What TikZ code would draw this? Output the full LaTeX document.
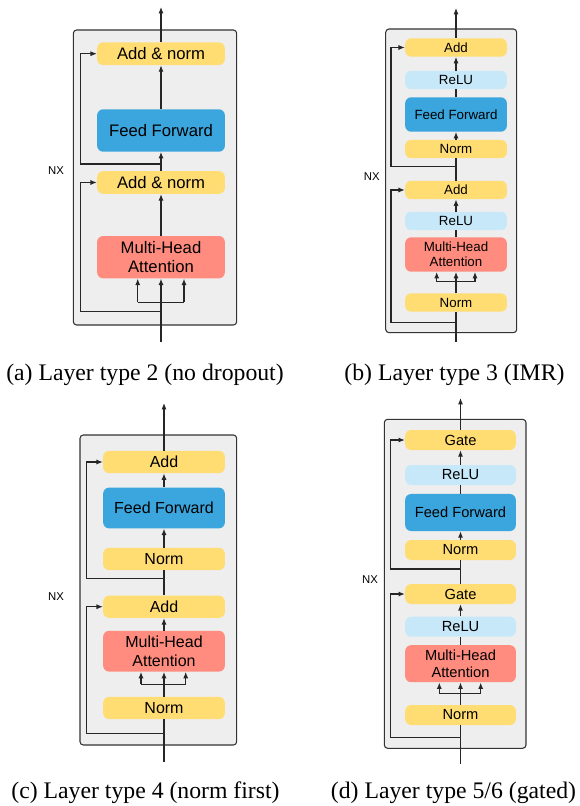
\documentclass[tikz,border=0pt]{standalone}
\usepackage{fontspec}
\setmainfont{Liberation Serif}
\setsansfont{Liberation Sans}
\usetikzlibrary{arrows.meta}

\definecolor{normyellow}{RGB}{255,221,114}
\definecolor{ffblue}{RGB}{58,166,221}
\definecolor{relublue}{RGB}{199,232,248}
\definecolor{attnred}{RGB}{255,140,126}
\definecolor{panelgray}{RGB}{238,238,238}
\definecolor{edgegray}{RGB}{51,51,51}

\tikzset{
  layer/.style={draw=edgegray, fill=panelgray, line width=0.8pt, rounded corners=2.5pt},
  block/.style={rounded corners=4.5pt, inner sep=0pt, align=center, font=\sffamily},
  normbox/.style={block, fill=normyellow},
  ffbox/.style={block, fill=ffblue},
  relubox/.style={block, fill=relublue},
  attnbox/.style={block, fill=attnred},
  wire/.style={draw=black!85, line width=0.85pt},
  flow/.style={wire, -{Latex[length=4.8pt,width=3.8pt]}},
  caption/.style={font=\fontsize{17.8}{20}\selectfont, anchor=base},
  nx/.style={font=\sffamily\fontsize{8.5}{10}\selectfont}
}

\begin{document}
\begin{tikzpicture}[x=0.75pt, y=-0.75pt]
  \useasboundingbox (0,0) rectangle (579,806);

  % ---- (a) layer type 2 ----
  \begin{scope}[block/.append style={minimum width=95.8pt, minimum height=17pt,
      font=\sffamily\fontsize{12.5}{14.5}\selectfont},
      ffbox/.append style={minimum height=31.8pt},
      attnbox/.append style={minimum height=31.8pt}]
    \draw[layer] (73.3,30) rectangle (236.7,325);

    % Draw nodes
    \node[normbox] (a-add2) at (161,53.7) {Add \& norm};
    \node[ffbox] (a-ff) at (161,130.5) {Feed Forward};
    \node[normbox] (a-add1) at (161,182.5) {Add \& norm};
    \node[attnbox] (a-mha) at (161,257.2) {Multi-Head\\Attention};
    \node[nx] (a-nx) at (56,170.7) {NX};

    \coordinate (a-in) at (161,342);
    \coordinate (a-out) at (161,7);
    \coordinate (a-l) at (137.7,302.3);
    \coordinate (a-r) at (184,302.3);
    \coordinate (a-split1) at (161,311.7);
    \coordinate (a-split2) at (161,164);
    \coordinate (a-c1) at (80.7,182.5);
    \coordinate (a-c2) at (80.7,53.7);

    % Draw directed edges
    \draw[flow] (a-in) -- (a-mha);
    \draw[wire] (a-l) -- (a-r);
    \draw[flow] (a-l) -- (a-l |- a-mha.south);
    \draw[flow] (a-r) -- (a-r |- a-mha.south);
    \draw[flow] (a-mha) -- (a-add1);
    \draw[flow] (a-add1) -- (a-ff);
    \draw[flow] (a-ff) -- (a-add2);
    \draw[flow] (a-add2) -- (a-out);
    \draw[flow] (a-split1) -| (a-c1) -- (a-add1);
    \draw[flow] (a-split2) -| (a-c2) -- (a-add2);
  \end{scope}

  % ---- (b) layer type 3 ----
  \begin{scope}[block/.append style={minimum width=76.3pt, minimum height=13.8pt,
      font=\sffamily\fontsize{10}{11.3}\selectfont},
      ffbox/.append style={minimum height=25.8pt},
      attnbox/.append style={minimum height=25.8pt}]
    \draw[layer] (385.7,29) rectangle (516.7,332.7);

    % Draw nodes
    \node[normbox] (b-add2) at (456,47.5) {Add};
    \node[relubox] (b-relu2) at (456,80) {ReLU};
    \node[ffbox] (b-ff) at (456,114.5) {Feed Forward};
    \node[normbox] (b-norm2) at (456,149) {Norm};
    \node[normbox] (b-add1) at (456,190) {Add};
    \node[relubox] (b-relu1) at (456,221) {ReLU};
    \node[attnbox] (b-mha) at (456,254.5) {Multi-Head\\Attention};
    \node[normbox] (b-norm1) at (456,302.5) {Norm};
    \node[nx] (b-nx) at (371.7,176.7) {NX};

    \coordinate (b-in) at (456,342);
    \coordinate (b-out) at (456,8);
    \coordinate (b-bar) at (456,281.7);
    \coordinate (b-l) at (436.7,281.7);
    \coordinate (b-r) at (475,281.7);
    \coordinate (b-split1) at (456,322.7);
    \coordinate (b-split2) at (456,166.7);
    \coordinate (b-c1) at (391,190);
    \coordinate (b-c2) at (391,47.5);

    % Draw directed edges
    \draw[wire] (b-in) -- (b-norm1);
    \draw[wire] (b-norm1) -- (b-bar);
    \draw[wire] (b-l) -- (b-r);
    \draw[flow] (b-bar) -- (b-mha);
    \draw[flow] (b-l) -- (b-l |- b-mha.south);
    \draw[flow] (b-r) -- (b-r |- b-mha.south);
    \draw[wire] (b-mha) -- (b-relu1);
    \draw[flow] (b-relu1) -- (b-add1);
    \draw[wire] (b-add1) -- (b-norm2);
    \draw[flow] (b-norm2) -- (b-ff);
    \draw[wire] (b-ff) -- (b-relu2);
    \draw[flow] (b-relu2) -- (b-add2);
    \draw[flow] (b-add2) -- (b-out);
    \draw[flow] (b-split1) -| (b-c1) -- (b-add1);
    \draw[flow] (b-split2) -| (b-c2) -- (b-add2);
  \end{scope}

  % ---- (c) layer type 4 ----
  \begin{scope}[block/.append style={minimum width=91.3pt, minimum height=16.7pt,
      font=\sffamily\fontsize{12}{14}\selectfont},
      ffbox/.append style={minimum height=30.6pt},
      attnbox/.append style={minimum height=30.6pt}]
    \draw[layer] (80,435) rectangle (236.7,745);

    % Draw nodes
    \node[normbox] (c-add2) at (164,462) {Add};
    \node[ffbox] (c-ff) at (164,508) {Feed Forward};
    \node[normbox] (c-norm2) at (164,559) {Norm};
    \node[normbox] (c-add1) at (164,606.7) {Add};
    \node[attnbox] (c-mha) at (164,651.2) {Multi-Head\\Attention};
    \node[normbox] (c-norm1) at (164,708) {Norm};
    \node[nx] (c-nx) at (56,596.7) {NX};

    \coordinate (c-in) at (164,762);
    \coordinate (c-out) at (164,403);
    \coordinate (c-bar) at (164,684.3);
    \coordinate (c-l) at (141,684.3);
    \coordinate (c-r) at (185.7,684.3);
    \coordinate (c-split1) at (164,733.3);
    \coordinate (c-split2) at (164,578.3);
    \coordinate (c-c1) at (86.7,606.7);
    \coordinate (c-c2) at (86.7,462);

    % Draw directed edges
    \draw[wire] (c-in) -- (c-norm1);
    \draw[wire] (c-norm1) -- (c-bar);
    \draw[wire] (c-l) -- (c-r);
    \draw[flow] (c-bar) -- (c-mha);
    \draw[flow] (c-l) -- (c-l |- c-mha.south);
    \draw[flow] (c-r) -- (c-r |- c-mha.south);
    \draw[flow] (c-mha) -- (c-add1);
    \draw[wire] (c-add1) -- (c-norm2);
    \draw[flow] (c-norm2) -- (c-ff);
    \draw[flow] (c-ff) -- (c-add2);
    \draw[flow] (c-add2) -- (c-out);
    \draw[flow] (c-split1) -| (c-c1) -- (c-add1);
    \draw[flow] (c-split2) -| (c-c2) -- (c-add2);
  \end{scope}

  % ---- (d) layer type 5/6 ----
  \begin{scope}[block/.append style={minimum width=83pt, minimum height=15pt,
      font=\sffamily\fontsize{11}{13}\selectfont},
      ffbox/.append style={minimum height=27.8pt},
      attnbox/.append style={minimum height=27.8pt}]
    \draw[layer] (384.3,419.3) rectangle (526,748.3);

    % Draw nodes
    \node[normbox] (d-gate2) at (460.5,440) {Gate};
    \node[relubox] (d-relu2) at (460.5,475) {ReLU};
    \node[ffbox] (d-ff) at (460.5,512.5) {Feed Forward};
    \node[normbox] (d-norm2) at (460.5,550) {Norm};
    \node[normbox] (d-gate1) at (460.5,594) {Gate};
    \node[relubox] (d-relu1) at (460.5,626.7) {ReLU};
    \node[attnbox] (d-mha) at (460.5,663.7) {Multi-Head\\Attention};
    \node[normbox] (d-norm1) at (460.5,715) {Norm};
    \node[nx] (d-nx) at (370,579.3) {NX};

    \coordinate (d-in) at (460.5,764);
    \coordinate (d-out) at (460.5,398);
    \coordinate (d-bar) at (460.5,693.3);
    \coordinate (d-l) at (439.3,693.3);
    \coordinate (d-r) at (480.7,693.3);
    \coordinate (d-split1) at (460.5,737.3);
    \coordinate (d-split2) at (460.5,569);
    \coordinate (d-c1) at (390.7,594);
    \coordinate (d-c2) at (390.7,440);

    % Draw directed edges
    \draw[wire] (d-in) -- (d-norm1);
    \draw[wire] (d-norm1) -- (d-bar);
    \draw[wire] (d-l) -- (d-r);
    \draw[flow] (d-bar) -- (d-mha);
    \draw[flow] (d-l) -- (d-l |- d-mha.south);
    \draw[flow] (d-r) -- (d-r |- d-mha.south);
    \draw[wire] (d-mha) -- (d-relu1);
    \draw[flow] (d-relu1) -- (d-gate1);
    \draw[wire] (d-gate1) -- (d-norm2);
    \draw[flow] (d-norm2) -- (d-ff);
    \draw[wire] (d-ff) -- (d-relu2);
    \draw[flow] (d-relu2) -- (d-gate2);
    \draw[flow] (d-gate2) -- (d-out);
    \draw[flow] (d-split1) -| (d-c1) -- (d-gate1);
    \draw[flow] (d-split2) -| (d-c2) -- (d-gate2);
  \end{scope}

  % Captions
  \node[caption] (cap-a) at (145,380) {(a) Layer type 2 (no dropout)};
  \node[caption] (cap-b) at (454.5,380) {(b) Layer type 3 (IMR)};
  \node[caption] (cap-c) at (145.5,798) {(c) Layer type 4 (norm first)};
  \node[caption] (cap-d) at (453.5,798) {(d) Layer type 5/6 (gated)};
\end{tikzpicture}
\end{document}
